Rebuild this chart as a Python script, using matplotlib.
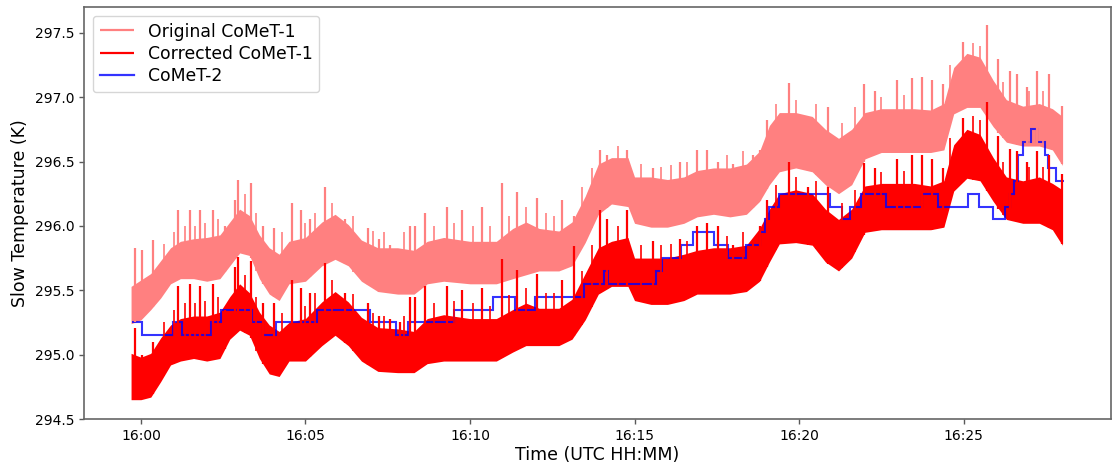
import numpy as np
import matplotlib
matplotlib.use("Agg")
import matplotlib.pyplot as plt
from matplotlib.ticker import MultipleLocator, FuncFormatter

# ── data (time in minutes after 16:00 UTC, temperature in K) ──
# envelope of the dense CoMeT-1 traces
env_t = [-0.3, 0.0, 0.3, 0.6, 0.9, 1.2, 1.6, 2.0, 2.4, 2.7, 3.0, 3.3, 3.6, 3.9,
         4.2, 4.5, 5.0, 5.5, 5.9, 6.3, 6.7, 7.2, 7.8, 8.3, 8.7, 9.2, 10.0, 10.8,
         11.3, 11.7, 12.1, 12.7, 13.1, 13.5, 13.9, 14.3, 14.8, 15.0, 15.5, 16.0,
         16.5, 16.9, 17.4, 17.9, 18.4, 18.8, 19.1, 19.4, 19.9, 20.4, 20.8, 21.2,
         21.6, 22.0, 22.5, 23.0, 23.5, 24.0, 24.4, 24.7, 25.1, 25.5, 25.9, 26.3,
         26.8, 27.3, 27.7, 28.0]

orig_lo = [295.24, 295.27, 295.35, 295.44, 295.55, 295.59, 295.59, 295.57, 295.59,
           295.69, 295.79, 295.77, 295.59, 295.47, 295.42, 295.55, 295.57, 295.69,
           295.74, 295.69, 295.57, 295.49, 295.47, 295.47, 295.55, 295.57, 295.55,
           295.55, 295.59, 295.62, 295.65, 295.65, 295.69, 295.87, 296.09, 296.17,
           296.15, 296.02, 295.99, 295.99, 296.02, 296.07, 296.09, 296.07, 296.09,
           296.19, 296.32, 296.42, 296.45, 296.42, 296.32, 296.25, 296.32, 296.52,
           296.57, 296.57, 296.57, 296.57, 296.59, 296.87, 296.92, 296.92, 296.77,
           296.65, 296.62, 296.62, 296.59, 296.47]
orig_hi = [295.53, 295.58, 295.63, 295.73, 295.83, 295.88, 295.90, 295.91, 295.93,
           296.03, 296.13, 296.08, 295.93, 295.83, 295.78, 295.88, 295.91, 296.03,
           296.09, 296.01, 295.89, 295.83, 295.83, 295.81, 295.88, 295.91, 295.88,
           295.88, 295.98, 296.03, 295.98, 295.96, 296.03, 296.23, 296.48, 296.53,
           296.53, 296.38, 296.38, 296.36, 296.38, 296.43, 296.45, 296.45, 296.48,
           296.58, 296.78, 296.88, 296.88, 296.85, 296.75, 296.68, 296.75, 296.88,
           296.91, 296.91, 296.91, 296.90, 296.95, 297.23, 297.34, 297.31, 297.13,
           296.98, 296.93, 296.95, 296.91, 296.85]

corr_lo = [294.65, 294.65, 294.67, 294.79, 294.92, 294.95, 294.97, 294.95, 294.97,
           295.12, 295.19, 295.15, 294.97, 294.85, 294.83, 294.95, 294.95, 295.07,
           295.15, 295.07, 294.95, 294.87, 294.86, 294.86, 294.93, 294.95, 294.95,
           294.95, 295.02, 295.07, 295.07, 295.07, 295.12, 295.27, 295.47, 295.53,
           295.53, 295.42, 295.39, 295.39, 295.42, 295.47, 295.47, 295.47, 295.49,
           295.57, 295.72, 295.86, 295.87, 295.85, 295.72, 295.65, 295.75, 295.95,
           295.97, 295.97, 295.97, 295.97, 295.99, 296.27, 296.37, 296.35, 296.19,
           296.05, 296.02, 296.02, 295.97, 295.85]
corr_hi = [295.01, 294.98, 295.01, 295.13, 295.23, 295.28, 295.30, 295.30, 295.33,
           295.45, 295.55, 295.48, 295.33, 295.23, 295.18, 295.25, 295.28, 295.41,
           295.49, 295.41, 295.29, 295.21, 295.20, 295.18, 295.28, 295.31, 295.28,
           295.28, 295.35, 295.40, 295.36, 295.36, 295.43, 295.63, 295.83, 295.88,
           295.91, 295.75, 295.75, 295.75, 295.78, 295.81, 295.83, 295.83, 295.85,
           295.98, 296.13, 296.25, 296.28, 296.25, 296.13, 296.05, 296.13, 296.31,
           296.33, 296.33, 296.33, 296.31, 296.35, 296.63, 296.75, 296.71, 296.53,
           296.38, 296.35, 296.38, 296.33, 296.28]

# tall spikes in the CoMeT-1 record (same instants in both versions)
spike_t = [-0.18, 0.04, 0.37, 1.13, 1.49, 1.79, 2.18, 2.55, 2.86, 2.96, 3.33, 3.71,
           4.04, 4.58, 4.85, 5.14, 5.59, 6.20, 6.90, 7.24, 7.57, 7.87, 8.18, 8.33,
           8.63, 9.29, 9.77, 10.37, 10.96, 11.42, 12.05, 12.81, 13.17, 13.95, 14.15,
           14.76, 15.57, 16.38, 16.89, 17.19, 17.55, 18.00, 18.61, 18.81, 19.02,
           19.68, 20.28, 20.89, 21.96, 22.31, 22.97, 23.42, 23.73, 24.03, 24.37,
           24.99, 25.70, 26.06, 26.41, 26.62, 26.92, 27.22, 27.61, 27.98]
spike_orig = [295.83, 295.81, 295.89, 296.12, 296.12, 296.12, 296.12, 296.00, 296.20,
              296.36, 296.33, 296.00, 295.98, 296.18, 296.12, 296.05, 296.30, 296.05,
              295.98, 295.90, 295.85, 295.82, 296.00, 296.00, 296.10, 296.15, 296.12,
              296.15, 296.33, 296.26, 296.22, 296.20, 296.08, 296.59, 296.55, 296.59,
              296.45, 296.50, 296.59, 296.59, 296.50, 296.48, 296.55, 296.59, 296.82,
              297.11, 296.82, 296.92, 297.10, 297.05, 297.13, 297.15, 297.16, 297.13,
              297.10, 297.43, 297.56, 297.30, 297.20, 297.18, 297.08, 297.20, 297.18,
              296.93]
spike_corr = [295.21, 295.00, 295.10, 295.53, 295.55, 295.53, 295.55, 295.35, 295.68,
              295.76, 295.73, 295.40, 295.40, 295.58, 295.52, 295.48, 295.71, 295.48,
              295.40, 295.30, 295.28, 295.25, 295.45, 295.45, 295.53, 295.53, 295.50,
              295.52, 295.74, 295.66, 295.63, 295.58, 295.84, 296.12, 296.05, 296.12,
              295.88, 295.90, 296.00, 296.02, 296.00, 295.85, 295.88, 296.00, 296.20,
              296.50, 296.30, 296.30, 296.49, 296.45, 296.52, 296.55, 296.55, 296.52,
              296.45, 296.84, 296.96, 296.70, 296.60, 296.58, 296.50, 296.58, 296.55,
              296.40]

# shorter spikes riding on the top of the noise band
minor_t = [0.7, 1.0, 1.35, 1.65, 1.95, 2.35, 3.15, 3.5, 4.3, 5.0, 5.3, 5.8, 6.45,
           7.05, 7.4, 8.0, 8.9, 9.5, 10.1, 10.6, 11.2, 11.7, 12.3, 12.55, 13.4, 13.7,
           14.5, 15.2, 15.8, 16.1, 16.6, 17.8, 18.3, 19.3, 19.9, 20.5, 21.3, 21.7,
           22.5, 23.2, 24.6, 25.3, 25.5, 26.2, 27.0, 27.4]
minor_orig = [295.86, 295.95, 296.00, 296.00, 296.02, 296.05, 296.25, 296.10, 295.95,
              296.02, 296.10, 296.18, 296.08, 295.96, 295.95, 295.95, 296.00, 296.02,
              296.00, 296.00, 296.08, 296.15, 296.10, 296.08, 296.30, 296.45, 296.62,
              296.48, 296.46, 296.47, 296.50, 296.55, 296.58, 296.95, 296.98, 296.95,
              296.80, 296.92, 297.00, 297.02, 297.25, 297.42, 297.40, 297.12, 297.05,
              297.05]
minor_corr = [295.25, 295.35, 295.40, 295.40, 295.42, 295.45, 295.62, 295.45, 295.32,
              295.38, 295.48, 295.58, 295.47, 295.32, 295.30, 295.30, 295.40, 295.42,
              295.40, 295.38, 295.46, 295.52, 295.48, 295.48, 295.65, 295.85, 296.00,
              295.85, 295.85, 295.86, 295.88, 295.92, 295.95, 296.32, 296.38, 296.35,
              296.18, 296.28, 296.42, 296.43, 296.68, 296.85, 296.82, 296.50, 296.46,
              296.46]

# CoMeT-2 stepped record: step edges and level between edges
c2_edges = [-0.28, 0.02, 0.96, 1.24, 2.12, 2.43, 3.39, 3.70, 4.09, 5.34, 6.96, 7.74,
            8.13, 9.52, 10.71, 11.37, 11.98, 13.47, 14.07, 14.20, 15.65, 15.85,
            16.40, 16.77, 17.43, 17.83, 18.38, 18.81, 18.97, 19.10, 19.40, 20.94,
            21.30, 21.55, 21.87, 22.64, 23.75, 24.22, 25.13, 25.47, 25.88, 26.26,
            26.41, 26.53, 26.65, 26.82, 27.05, 27.22, 27.46, 27.58, 27.81, 28.05]
c2_vals = [295.25, 295.15, 295.25, 295.15, 295.25, 295.35, 295.25, 295.15, 295.25,
           295.35, 295.25, 295.15, 295.25, 295.35, 295.45, 295.35, 295.45, 295.55,
           295.65, 295.55, 295.65, 295.75, 295.85, 295.95, 295.85, 295.75, 295.85,
           295.95, 296.05, 296.15, 296.25, 296.15, 296.05, 296.15, 296.25, 296.15,
           296.25, 296.15, 296.25, 296.15, 296.05, 296.15, 296.25, 296.35, 296.55,
           296.65, 296.75, 296.65, 296.55, 296.45, 296.35]

# ── figure ───────────────────────────────────────────────────────────────────
fig = plt.figure(figsize=(11.12, 4.65), dpi=100)
ax = fig.add_axes([84 / 1112, 46 / 465, 1027 / 1112, 412 / 465])

light = "#ff8080"
red = "#ff0000"

# original CoMeT-1
ax.fill_between(env_t, orig_lo, orig_hi, color=light, lw=0)
h_orig = ax.vlines(spike_t, np.interp(spike_t, env_t, orig_lo), spike_orig,
                   color=light, lw=1.6)
ax.vlines(minor_t, np.interp(minor_t, env_t, orig_lo), minor_orig, color=light, lw=1.2)

# corrected CoMeT-1
ax.fill_between(env_t, corr_lo, corr_hi, color=red, lw=0)
h_corr = ax.vlines(spike_t, np.interp(spike_t, env_t, corr_lo), spike_corr,
                   color=red, lw=1.6)
ax.vlines(minor_t, np.interp(minor_t, env_t, corr_lo), minor_corr, color=red, lw=1.2)

# CoMeT-2
h_c2 = ax.stairs(c2_vals, c2_edges, baseline=None, color="blue", alpha=0.8, lw=1.5)

ax.set_xlim(-1.73, 29.48)
ax.set_ylim(294.5, 297.7)
ax.xaxis.set_major_locator(MultipleLocator(5))
ax.xaxis.set_major_formatter(FuncFormatter(lambda v, p: "16:%02d" % int(round(v))))
ax.yaxis.set_major_locator(MultipleLocator(0.5))
ax.yaxis.set_major_formatter(FuncFormatter(lambda v, p: "%.1f" % v))
ax.tick_params(labelsize=10, color="0.35", width=1.0)
for s in ax.spines.values():
    s.set_color("0.4")
    s.set_linewidth(1.2)

ax.set_xlabel("Time (UTC HH:MM)", fontsize=12.5, labelpad=2)
ax.set_ylabel("Slow Temperature (K)", fontsize=12.5)

leg = ax.legend([h_orig, h_corr, h_c2],
                ["Original CoMeT-1", "Corrected CoMeT-1", "CoMeT-2"],
                loc="upper left", fontsize=12.4, labelspacing=0.25,
                handlelength=2.0)
for line in leg.get_lines():
    line.set_linewidth(1.6)

fig.savefig("out.png", dpi=100)
